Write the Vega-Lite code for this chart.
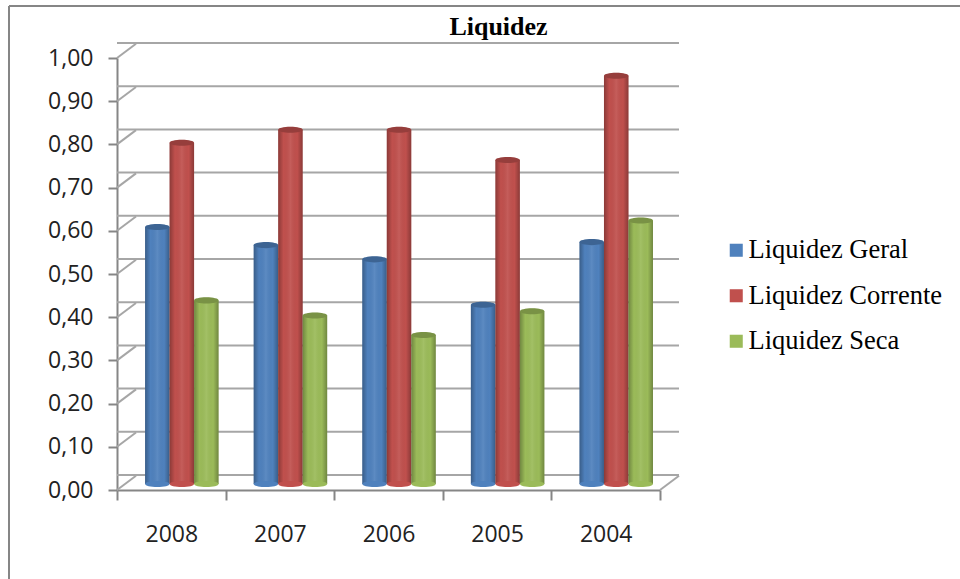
{
"$schema":"https://vega.github.io/schema/vega-lite/v6.json",
"width":543,"height":432,
"autosize":{"type":"none"},
"padding":{"left":117,"top":58,"right":300,"bottom":89},
"background":"white",
"title":{"text":"Liquidez","font":"Liberation Serif","fontSize":26,"fontWeight":"bold","color":"#000000","anchor":"middle","dx":110,"offset":-35},
"config":{"view":{"stroke":null}},
"datasets":{
"rows":[
{"ano":"2008","serie":"Liquidez Geral","valor":0.595},{"ano":"2008","serie":"Liquidez Corrente","valor":0.79},{"ano":"2008","serie":"Liquidez Seca","valor":0.425},
{"ano":"2007","serie":"Liquidez Geral","valor":0.553},{"ano":"2007","serie":"Liquidez Corrente","valor":0.82},{"ano":"2007","serie":"Liquidez Seca","valor":0.39},
{"ano":"2006","serie":"Liquidez Geral","valor":0.52},{"ano":"2006","serie":"Liquidez Corrente","valor":0.82},{"ano":"2006","serie":"Liquidez Seca","valor":0.345},
{"ano":"2005","serie":"Liquidez Geral","valor":0.415},{"ano":"2005","serie":"Liquidez Corrente","valor":0.75},{"ano":"2005","serie":"Liquidez Seca","valor":0.40},
{"ano":"2004","serie":"Liquidez Geral","valor":0.56},{"ano":"2004","serie":"Liquidez Corrente","valor":0.945},{"ano":"2004","serie":"Liquidez Seca","valor":0.61}
],
"ticks":[{"v":0},{"v":0.1},{"v":0.2},{"v":0.3},{"v":0.4},{"v":0.5},{"v":0.6},{"v":0.7},{"v":0.8},{"v":0.9},{"v":1}]
},
"data":{"name":"rows"},
"layer":[
{"mark":{"type":"rule","stroke":"#868686","strokeWidth":2},
 "encoding":{"x":{"value":-108},"y":{"value":-52},"y2":{"value":521}}},
{"mark":{"type":"rule","stroke":"#868686","strokeWidth":2},
 "encoding":{"y":{"value":-52},"x":{"value":-108},"x2":{"value":843}}},
{"data":{"name":"ticks"},
 "mark":{"type":"rule","stroke":"#a6a6a6","strokeWidth":2,"xOffset":19,"yOffset":-15},
 "encoding":{"y":{"field":"v","type":"quantitative","title":null,"scale":{"domain":[0,1]},
    "axis":{"values":[0,0.1,0.2,0.3,0.4,0.5,0.6,0.7,0.8,0.9,1],"labelExpr":"replace(format(datum.value,'.2f'),'.',',')","grid":false,"domainColor":"#868686","domainWidth":2,"tickColor":"#868686","tickWidth":2,"tickSize":9,"labelFont":"Open Sans","labelFontSize":23,"labelColor":"#222222","labelPadding":15}}}},
{"data":{"name":"ticks"},
 "mark":{"type":"point","filled":false,"stroke":"#a6a6a6","strokeWidth":2,"opacity":1,"shape":"M0,0L1,-0.75","size":1444},
 "encoding":{"x":{"value":0},"y":{"field":"v","type":"quantitative","scale":{"domain":[0,1]}}}},
{"data":{"values":[{"v":0}]},
 "mark":{"type":"point","filled":false,"stroke":"#a6a6a6","strokeWidth":2,"opacity":1,"shape":"M0,0L1,-0.75","size":1444},
 "encoding":{"x":{"value":543},"y":{"field":"v","type":"quantitative","scale":{"domain":[0,1]}}}},
{"mark":{"type":"bar","yOffset":-6},
 "encoding":{
  "x":{"field":"ano","type":"nominal","sort":null,"title":null,"scale":{"paddingInner":0,"paddingOuter":0},
    "axis":{"tickBand":"extent","domainColor":"#868686","domainWidth":2,"tickColor":"#868686","tickWidth":2,"tickSize":10,"labelAngle":0,"labelFont":"Open Sans","labelFontSize":23,"labelColor":"#222222","labelPadding":23,"grid":false}},
  "xOffset":{"field":"serie","type":"nominal","sort":["Liquidez Geral","Liquidez Corrente","Liquidez Seca"],"scale":{"paddingInner":0,"paddingOuter":0.716,"align":0.8}},
  "y":{"field":"valor","type":"quantitative"},
  "color":{"field":"serie","type":"nominal","title":null,
    "scale":{"domain":["Liquidez Geral","Liquidez Corrente","Liquidez Seca"],"range":["#4F81BD","#C0504D","#9BBB59"]},
    "legend":{"orient":"none","legendX":606,"legendY":179,"symbolType":"square","symbolSize":170,"symbolStrokeWidth":0,"labelFont":"Liberation Serif","labelFontSize":26.5,"labelColor":"#000000","rowPadding":18.5,"labelOffset":-1,"labelLimit":300}}
 }},
{"mark":{"type":"bar","yOffset":-6,"fill":{"gradient":"linear","x1":0,"x2":1,"y1":0,"y2":0,"stops":[{"offset":0,"color":"rgba(0,0,0,0.28)"},{"offset":0.22,"color":"rgba(0,0,0,0)"},{"offset":0.5,"color":"rgba(255,255,255,0.08)"},{"offset":0.78,"color":"rgba(0,0,0,0)"},{"offset":1,"color":"rgba(0,0,0,0.28)"}]}},
 "encoding":{
  "x":{"field":"ano","type":"nominal","sort":null,"title":null},
  "xOffset":{"field":"serie","type":"nominal","sort":["Liquidez Geral","Liquidez Corrente","Liquidez Seca"]},
  "y":{"field":"valor","type":"quantitative"}}},
{"mark":{"type":"point","filled":true,"opacity":1,"shape":"M-1,0A1,0.25 0 1,1 1,0A1,0.25 0 1,1 -1,0Z","size":600,"yOffset":-6},
 "encoding":{
  "x":{"field":"ano","type":"nominal","sort":null},
  "xOffset":{"field":"serie","type":"nominal","sort":["Liquidez Geral","Liquidez Corrente","Liquidez Seca"]},
  "y":{"datum":0,"type":"quantitative"},
  "color":{"field":"serie","type":"nominal"}}},
{"mark":{"type":"point","filled":true,"opacity":1,"shape":"M-1,0A1,0.25 0 1,1 1,0A1,0.25 0 1,1 -1,0Z","size":600,"yOffset":-6},
 "encoding":{
  "x":{"field":"ano","type":"nominal","sort":null},
  "xOffset":{"field":"serie","type":"nominal","sort":["Liquidez Geral","Liquidez Corrente","Liquidez Seca"]},
  "y":{"field":"valor","type":"quantitative"},
  "color":{"field":"serie","type":"nominal"}}},
{"mark":{"type":"point","filled":true,"opacity":0.22,"fill":"#000000","shape":"M-1,0A1,0.25 0 1,1 1,0A1,0.25 0 1,1 -1,0Z","size":600,"yOffset":-6},
 "encoding":{
  "x":{"field":"ano","type":"nominal","sort":null},
  "xOffset":{"field":"serie","type":"nominal","sort":["Liquidez Geral","Liquidez Corrente","Liquidez Seca"]},
  "y":{"field":"valor","type":"quantitative"}}}
]
}
